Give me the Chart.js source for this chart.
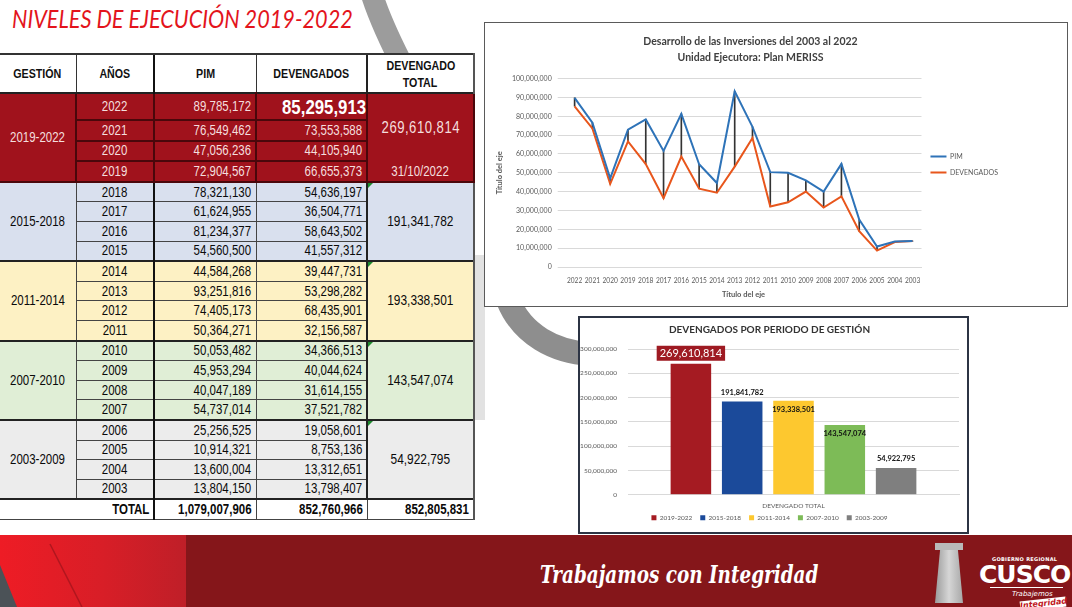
<!DOCTYPE html>
<html>
<head>
<meta charset="utf-8">
<script src="https://cdn.jsdelivr.net/npm/chart.js@4.4.1/dist/chart.umd.min.js"></script>
<style>
  body { margin: 0; width: 1072px; height: 607px; position: relative; overflow: hidden; background: #fff;
         font-family: 'Liberation Sans', Arial, sans-serif; }
  #wm { position: absolute; left: 0; top: 0; z-index: 0; }
  #title { position: absolute; left: 12px; top: 2px; font: italic 26px Lato, sans-serif; color: #e3141c;
           transform-origin: left top; white-space: nowrap; z-index: 2; }
  #tbl { position: absolute; left: 0; top: 53px; width: 474px; border-collapse: collapse; table-layout: fixed; z-index: 2; }
  #tbl th, #tbl td { padding: 0 4px; font-size: 14px; white-space: nowrap; overflow: visible; }
  #tbl .n { display: inline-block; transform: scaleX(0.82); transform-origin: center center; }
  #tbl .num .n { transform-origin: right center; }
  #tbl th { background: #fff; font-weight: bold; font-size: 13px; line-height: 17px; color: #111;
            border-top: 2px solid #333; border-left: 1px solid #333; border-bottom: 1px solid #333; }
  #tbl .hd { height: 39px; }
  #tbl td { border: 1px solid #444; height: 18.6px; line-height: 17px; color: #0a0a0a; }
  #tbl .yr, #tbl .gest { text-align: center; }
  #tbl .num { text-align: right; }
  #tbl .tot { text-align: center; font-size: 14.5px; }
  #tbl tr.first td { border-top: 2px solid #222; }
  #tbl td.yr { border-right: 2px solid #111; }
  #tbl td.tot { border-left: 2px solid #222; border-right: 2px solid #555; position: relative; }
  #tbl .g0 td { background: #a0121c; color: #f4dede; border-color: #4a070b; border-width: 2px; }
  #tbl .g0 td.gest { border-right: 1px solid #4a070b; }
  #tbl .g0 td.tot { font-size: 16px; letter-spacing: 0.6px; }
  #tbl .g1 td { background: #d9e0ee; }
  #tbl .g2 td { background: #fdf1c4; }
  #tbl .g3 td { background: #e0eed6; }
  #tbl .g4 td { background: #ececec; }
  #tbl tr.big { height: 27px; }
  #tbl td.hl { font-size: 21px; font-weight: bold; color: #fff; }
  #tbl td.hl .n { transform: scaleX(0.8); }
  #tbl .totbox { height: 84px; position: relative; }
  #tbl .totbox > div { position: absolute; left: 0; right: 0; text-align: center; }
  #tbl .totbox .a { top: 24px; }
  #tbl .totbox .b { top: 68px; font-size: 14px; letter-spacing: 0; }
  #tbl .tri { position: absolute; left: 0; top: 0; width: 0; height: 0; border-top: 5px solid #1e8a2e; border-right: 5px solid transparent; }
  #tbl tr.totrow { height: 20px; }
  #tbl tr.totrow td { background: #fff; font-weight: bold; border: 1px solid #444; border-top: 2px solid #222; }
  #tbl tr.totrow td:first-child { border-left: none; border-right: 2px solid #111; }
  .box { position: absolute; background: #fff; z-index: 2; }
  #lineBox { left: 484px; top: 22px; width: 582px; height: 283px; border: 1px solid #5a5a5a; }
  #barBox { left: 578px; top: 316px; width: 387px; height: 214px; border: 2px solid #2c3444; }
  #footer { position: absolute; left: 0; top: 535px; width: 1072px; height: 72px; background: #85161a; z-index: 3; }
  #footLeft { position: absolute; left: 0; top: 0; width: 186px; height: 72px;
              background: linear-gradient(90deg, #ee1c25 0%, #d81e27 55%, #bf1f28 100%); }
  #footSvg { position: absolute; left: 0; top: 0; }
  #slogan { position: absolute; left: 540px; top: 25px; font: italic bold 25px 'DejaVu Serif', serif; color: #fff;
            transform-origin: left top; white-space: nowrap; }
  #logoCap { position: absolute; left: 935px; top: 8px; width: 28px; height: 7px; background: #b9b9b9; }
  #logoBody { position: absolute; left: 935px; top: 15px; width: 28px; height: 53px; background: linear-gradient(90deg, #9a9a9a, #d6d6d6 50%, #a8a8a8);
              clip-path: polygon(18% 0, 82% 0, 100% 100%, 0 100%); }
  #gob { position: absolute; left: 992px; top: 21px; font: bold 5px 'DejaVu Sans', sans-serif; color: #fff; letter-spacing: 0.3px; }
  #cusco { position: absolute; left: 979px; top: 25px; font: bold 25px 'DejaVu Sans', sans-serif; color: #fff; letter-spacing: -1px; }
  #cuscoLine { position: absolute; left: 990px; top: 52px; width: 73px; height: 1px; background: #fff; }
  #trab { position: absolute; left: 1012px; top: 55px; font: italic 7px 'DejaVu Sans', sans-serif; color: #fff; }
  #integ { position: absolute; left: 1020px; top: 64px; width: 46px; height: 10px; background: #fff; color: #c0161d;
           font: italic bold 8px 'DejaVu Sans', sans-serif; text-align: center; line-height: 9px; transform: rotate(-6deg); }
</style>
</head>
<body>
<svg id="wm" width="1072" height="607">
  <path d="M 372 -5 C 380 20, 392 45, 405 70" stroke="#9c9c9c" stroke-width="22" fill="none" stroke-linecap="round"/>
  <path d="M 508 300 C 522 335, 555 352, 590 354" stroke="#8e8e8e" stroke-width="24" fill="none" stroke-linecap="round"/>
  <path d="M 480 255 L 480 420" stroke="#e2e2e2" stroke-width="10" fill="none"/>
</svg>

<div id="title">NIVELES DE EJECUCIÓN 2019-2022</div>

<table id="tbl">
  <colgroup><col style="width:76px"><col style="width:78px"><col style="width:102px"><col style="width:111px"><col style="width:107px"></colgroup>
  <tbody id="tbody"></tbody>
</table>

<div class="box" id="lineBox"><canvas id="lineChart" width="582" height="283"></canvas></div>
<div class="box" id="barBox"><canvas id="barChart" width="387" height="214"></canvas></div>

<div id="footer">
  <div id="footLeft"></div>
  <svg id="footSvg" width="200" height="72">
    <line x1="50" y1="9" x2="82" y2="72" stroke="#b0161e" stroke-width="1.5"/>
    <polygon points="0,30 0,72 17,72" fill="#4b5257"/>
  </svg>
  <div id="slogan">Trabajamos con Integridad</div>
  <div id="logoCap"></div>
  <div id="logoBody"></div>
  <div id="gob">GOBIERNO REGIONAL</div>
  <div id="cusco">CUSCO</div>
  <div id="cuscoLine"></div>
  <div id="trab">Trabajemos</div>
  <div id="integ">Integridad</div>
</div>

<script>
// años de ejecución (de 2022 a 2003)
const years = [2022, 2021, 2020, 2019, 2018, 2017, 2016, 2015, 2014, 2013,
               2012, 2011, 2010, 2009, 2008, 2007, 2006, 2005, 2004, 2003];
const pim = [89785172, 76549462, 47056236, 72904567, 78321130, 61624955, 81234377, 54560500, 44584268, 93251816,
             74405173, 50364271, 50053482, 45953294, 40047189, 54737014, 25256525, 10914321, 13600004, 13804150];
const devengados = [85295913, 73553588, 44105940, 66655373, 54636197, 36504771, 58643502, 41557312, 39447731, 53298282,
                    68435901, 32156587, 34366513, 40044624, 31614155, 37521782, 19058601, 8753136, 13312651, 13798407];
const periods = ['2019-2022', '2015-2018', '2011-2014', '2007-2010', '2003-2009'];
const periodTotals = [269610814, 191341782, 193338501, 143547074, 54922795];
const cutDate = '31/10/2022';
const totalPim = 1079007906;
const totalDev = 852760966;
const grandTotal = 852805831;

// valores del grafico de barras (como aparecen en sus etiquetas)
const barValues = [269610814, 191841782, 193338501, 143547074, 54922795];
const barCategory = ['DEVENGADO TOTAL'];
const barColors = ['#a51b22', '#1b4a9a', '#fdc82f', '#7dbb57', '#7f7f7f'];

const fmt = v => v.toLocaleString('en-US');
const n = t => `<span class="n">${t}</span>`;

// tabla
let html = '<tr class="hd"><th style="border-left:none">' + n('GESTIÓN') + '</th><th>' + n('AÑOS') +
  '</th><th style="border-left:2px solid #111">' + n('PIM') + '</th><th>' + n('DEVENGADOS') +
  '</th><th style="border-left:2px solid #222;border-right:2px solid #555">' + n('DEVENGADO') + '<br>' + n('TOTAL') + '</th></tr>';
years.forEach((y, i) => {
  const g = Math.floor(i / 4), first = i % 4 === 0;
  html += `<tr class="g${g}${first ? ' first' : ''}${i === 0 ? ' big' : ''}">`;
  if (first) html += `<td rowspan="4" class="gest" style="border-left:none">${n(periods[g])}</td>`;
  html += `<td class="yr">${n(y)}</td><td class="num">${n(fmt(pim[i]))}</td><td class="num${i === 0 ? ' hl' : ''}">${n(fmt(devengados[i]))}</td>`;
  if (first) {
    const tri = g > 0 ? '<div class="tri"></div>' : '';
    html += g === 0
      ? `<td rowspan="4" class="tot"><div class="totbox"><div class="a">${n(fmt(periodTotals[g]))}</div><div class="b">${n(cutDate)}</div></div></td>`
      : `<td rowspan="4" class="tot">${tri}${n(fmt(periodTotals[g]))}</td>`;
  }
  html += '</tr>';
});
html += `<tr class="totrow"><td colspan="2" class="num">${n('TOTAL')}</td><td class="num">${n(fmt(totalPim))}</td><td class="num">${n(fmt(totalDev))}</td><td class="num" style="border-right:2px solid #555">${n(fmt(grandTotal))}</td></tr>`;
document.getElementById('tbody').innerHTML = html;

// ajustar anchos de textos decorativos
function fitWidth(id, w) {
  const el = document.getElementById(id);
  el.style.transform = 'scaleX(' + (w / el.offsetWidth) + ')';
}
fitWidth('title', 341);
fitWidth('slogan', 278);

const axisFont = { family: 'Lato, sans-serif', size: 7 };

// grafico de lineas
new Chart(document.getElementById('lineChart'), {
  data: {
    labels: years.map(String),
    datasets: [
      { type: 'line', label: 'PIM', data: pim, borderColor: '#2e73b8', backgroundColor: '#2e73b8',
        borderWidth: 2, pointRadius: 0, tension: 0, order: 1 },
      { type: 'line', label: 'DEVENGADOS', data: devengados, borderColor: '#e8561c', backgroundColor: '#e8561c',
        borderWidth: 2, pointRadius: 0, tension: 0, order: 2 },
      { type: 'bar', label: 'drop', data: years.map((y, i) => [devengados[i], pim[i]]),
        backgroundColor: '#333', barThickness: 1, order: 3 }
    ]
  },
  options: {
    responsive: false,
    animation: false,
    layout: { padding: { left: 8, right: 59, top: 4, bottom: 4 } },
    plugins: {
      title: {
        display: true,
        text: ['Desarrollo de las Inversiones del 2003 al 2022', 'Unidad Ejecutora: Plan MERISS'],
        color: '#404040',
        font: { family: 'Lato, sans-serif', size: 10.5, weight: 'bold', lineHeight: 1.55 },
        padding: { top: 6, bottom: 13 }
      },
      legend: {
        position: 'right',
        labels: {
          filter: item => item.datasetIndex < 2,
          usePointStyle: true, pointStyle: 'line', pointStyleWidth: 16,
          color: '#595959', font: { family: 'Lato, sans-serif', size: 7 }, padding: 9
        }
      },
      tooltip: { enabled: false }
    },
    scales: {
      x: {
        offset: true,
        grid: { display: false },
        border: { color: '#d9d9d9' },
        ticks: { color: '#595959', font: { family: 'Lato, sans-serif', size: 6.6 }, maxRotation: 0, autoSkip: false, padding: 2 },
        title: { display: true, text: 'Título del eje', color: '#595959', font: { family: 'Lato, sans-serif', size: 7.5, weight: 'bold' }, padding: 3 }
      },
      y: {
        min: 0, max: 100000000,
        grid: { color: '#d9d9d9' },
        border: { display: false },
        ticks: { stepSize: 10000000, color: '#595959', font: axisFont, callback: v => fmt(v), padding: 6 },
        title: { display: true, text: 'Título del eje', color: '#595959', font: { family: 'Lato, sans-serif', size: 7.5, weight: 'bold' }, padding: 2 }
      }
    }
  }
});

// etiquetas del grafico de barras
const barLabels = {
  id: 'barLabels',
  afterDatasetsDraw(chart, args, opts) {
    const ctx = chart.ctx;
    chart.data.datasets.forEach((ds, i) => {
      const el = chart.getDatasetMeta(i).data[0];
      const txt = fmt(ds.data[0]);
      const mode = opts.modes[i];
      ctx.save();
      ctx.textAlign = 'center';
      ctx.textBaseline = 'middle';
      if (mode === 'box') {
        ctx.font = '11px Lato, sans-serif';
        const w = ctx.measureText(txt).width + 6;
        ctx.fillStyle = '#9e1a22';
        ctx.fillRect(el.x - w / 2, el.y - 18, w, 15);
        ctx.fillStyle = '#fff';
        ctx.fillText(txt, el.x, el.y - 10);
      } else {
        ctx.font = 'bold 7.5px Lato, sans-serif';
        ctx.fillStyle = '#111';
        ctx.fillText(txt, el.x, mode === 'inside' ? el.y + 9 : el.y - 9);
      }
      ctx.restore();
    });
  }
};

// leyenda inferior mas compacta en alto
const tightLegend = {
  id: 'tightLegend',
  afterInit(chart) {
    const legend = chart.legend;
    const fit = legend.fit;
    const draw = legend.draw;
    legend.fit = function () { fit.call(this); this.height -= 9; };
    legend.draw = function () {
      const c = this.ctx;
      c.save();
      c.translate(0, -10);
      draw.call(this);
      c.restore();
    };
  }
};

new Chart(document.getElementById('barChart'), {
  type: 'bar',
  data: {
    labels: barCategory,
    datasets: periods.map((p, i) => ({ label: p, data: [barValues[i]], backgroundColor: barColors[i] }))
  },
  options: {
    responsive: false,
    animation: false,
    categoryPercentage: 0.775,
    barPercentage: 0.79,
    layout: { padding: { left: 0, right: 8, top: 0, bottom: 0 } },
    plugins: {
      title: {
        display: true, text: 'DEVENGADOS POR PERIODO DE GESTIÓN', color: '#333',
        font: { family: 'Lato, sans-serif', size: 10, weight: 'bold' }, padding: { top: 6, bottom: 13 }
      },
      legend: {
        position: 'bottom',
        labels: { boxWidth: 5, boxHeight: 5, color: '#595959', font: { family: 'Lato, sans-serif', size: 6.5 }, padding: 8 }
      },
      tooltip: { enabled: false },
      barLabels: { modes: ['box', 'above', 'inside', 'inside', 'above'] }
    },
    scales: {
      x: {
        grid: { display: false, drawTicks: false },
        border: { color: '#d9d9d9' },
        ticks: { color: '#595959', font: { family: 'Lato, sans-serif', size: 6.5 }, padding: 7 }
      },
      y: {
        min: 0, max: 300000000,
        grid: { color: '#d9d9d9', drawTicks: false },
        border: { display: false },
        ticks: { stepSize: 50000000, color: '#595959', font: { family: 'Lato, sans-serif', size: 6.5 }, callback: v => fmt(v), padding: 11 },
        afterFit: scale => { scale.width = 48; }
      }
    }
  },
  plugins: [barLabels, tightLegend]
});
</script>
</body>
</html>
